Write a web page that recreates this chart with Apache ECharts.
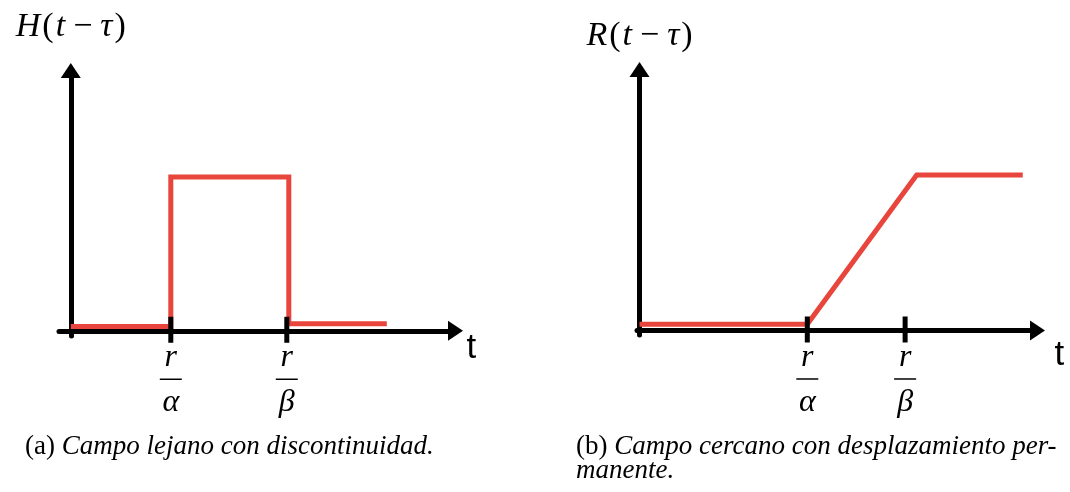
<!DOCTYPE html>
<html>
<head>
<meta charset="utf-8">
<script src="https://cdn.jsdelivr.net/npm/echarts@6/dist/echarts.min.js"></script>
<style>
html,body{margin:0;padding:0;background:#fff;}
#chart{width:1070px;height:492px;}
</style>
</head>
<body>
<div id="chart"></div>
<script>
// ---- data ----
const leftTickValues = [1.0, 2.16];
const leftTickNum = ['r', 'r'];
const leftTickDen = ['α', 'β'];
const leftRedT = [0, 1.0, 1.0, 2.18, 2.18, 3.16];
const leftRedV = [0.027, 0.027, 1.0, 1.0, 0.045, 0.045];
const leftXRange = [-0.118, 3.847];
const leftYRange = [-0.034, 1.692];

const rightTickValues = [1.0, 1.583];
const rightTickNum = ['r', 'r'];
const rightTickDen = ['α', 'β'];
const rightRedT = [0, 1.0, 1.652, 2.284];
const rightRedV = [0.04, 0.04, 1.0, 1.0];
const rightXRange = [-0.015, 2.372];
const rightYRange = [-0.029, 1.678];

const axisNameX = 't';
const leftTitleParts = ['H', '(', 't', '−', 'τ', ')'];
const rightTitleParts = ['R', '(', 't', '−', 'τ', ')'];
const captionA = ['(a) ', 'Campo lejano con discontinuidad.'];
const captionB = ['(b) ', 'Campo cercano con desplazamiento per-', 'manente.'];

// ---- helpers ----
const RED = '#e8453c';
const serif = 'Liberation Serif';
function pairs(t, v) { return t.map((x, i) => [x, v[i]]); }
function mathName(parts) {
  const kinds = ['i', 'p', 'i', 'm', 'i', 'p'];
  return parts.map((p, i) => '{' + kinds[i] + '|' + p + '}').join('');
}
const mathRich = {
  i: {fontFamily: serif, fontStyle: 'italic', fontSize: 34, color: '#000', padding: [0, 1]},
  p: {fontFamily: serif, fontStyle: 'normal', fontSize: 34, color: '#000', padding: [0, 1]},
  m: {fontFamily: serif, fontStyle: 'normal', fontSize: 34, color: '#000', padding: [0, 7]}
};
const fracRich = {
  num: {fontFamily: serif, fontStyle: 'italic', fontSize: 32, lineHeight: 22, color: '#000'},
  bar: {width: 22, height: 1.5, lineHeight: 21, backgroundColor: '#000', fontSize: 2},
  den: {fontFamily: serif, fontStyle: 'italic', fontSize: 32, lineHeight: 26, color: '#000'}
};
function xAxisDef(gridIndex, range, shift, nameGap) {
  return {
    type: 'value', gridIndex: gridIndex, min: range[0], max: range[1],
    name: '{sp| }\n{t|' + axisNameX + '}', nameLocation: 'end', nameGap: nameGap,
    nameTextStyle: {rich: {
      sp: {fontSize: 2, lineHeight: shift * 2},
      t: {fontFamily: 'Liberation Sans', fontSize: 35, lineHeight: 36, color: '#000'}
    }},
    axisLine: {onZero: true, symbol: ['none', 'triangle'], symbolSize: [20, 15], lineStyle: {color: '#000', width: 5}},
    axisTick: {show: false},
    splitLine: {show: false},
    axisLabel: {show: false}
  };
}
function yAxisDef(gridIndex, range, parts, gap) {
  return {
    type: 'value', gridIndex: gridIndex, min: range[0], max: range[1],
    name: mathName(parts), nameLocation: 'end', nameGap: gap,
    nameTextStyle: {rich: mathRich},
    axisLine: {onZero: true, symbol: ['none', 'triangle'], symbolSize: [20, 15], lineStyle: {color: '#000', width: 5}},
    axisTick: {show: false},
    splitLine: {show: false},
    axisLabel: {show: false}
  };
}
function redSeries(idx, t, v) {
  return {
    type: 'line', xAxisIndex: idx, yAxisIndex: idx, data: pairs(t, v),
    symbol: 'none', z: 3, clip: false,
    lineStyle: {color: RED, width: 5, join: 'miter', cap: 'butt'}
  };
}
function tickSeries(idx, ticks, nums, dens) {
  return {
    type: 'scatter', xAxisIndex: idx, yAxisIndex: idx, data: ticks.map(t => [t, 0]),
    symbol: 'rect', symbolSize: [5, 26], symbolOffset: [0, -1], z: 5, clip: false,
    itemStyle: {color: '#000', opacity: 1}, silent: true,
    label: {
      show: true, position: 'bottom', distance: 4,
      formatter: p => '{num|' + nums[p.dataIndex] + '}\n{bar| }\n{den|' + dens[p.dataIndex] + '}',
      rich: fracRich
    }
  };
}
const capRich = {
  u: {fontFamily: serif, fontStyle: 'normal', fontWeight: 'normal', fontSize: 27, lineHeight: 24, color: '#000'},
  i: {fontFamily: serif, fontStyle: 'italic', fontWeight: 'normal', fontSize: 27, lineHeight: 24, color: '#000'}
};

const chart = echarts.init(document.getElementById('chart'), null, {renderer: 'canvas'});
chart.setOption({
  animation: false,
  backgroundColor: '#fff',
  title: [
    {text: '{u|' + captionA[0] + '}{i|' + captionA[1] + '}', left: 25, top: 435, padding: 0,
     textStyle: {fontWeight: 'normal', rich: capRich}},
    {text: '{u|' + captionB[0] + '}{i|' + captionB[1] + '}\n{i|' + captionB[2] + '}', left: 576, top: 435, padding: 0,
     textStyle: {fontWeight: 'normal', rich: capRich}}
  ],
  grid: [
    {left: 59, top: 70.5, width: 396.5, height: 265.5},
    {left: 637, top: 69.5, width: 400.5, height: 265.5}
  ],
  xAxis: [
    xAxisDef(0, leftXRange, 18, 11),
    xAxisDef(1, rightXRange, 25, 17)
  ],
  yAxis: [
    yAxisDef(0, leftYRange, leftTitleParts, 26),
    yAxisDef(1, rightYRange, rightTitleParts, 16)
  ],
  series: [
    redSeries(0, leftRedT, leftRedV),
    tickSeries(0, leftTickValues, leftTickNum, leftTickDen),
    redSeries(1, rightRedT, rightRedV),
    tickSeries(1, rightTickValues, rightTickNum, rightTickDen)
  ]
});
</script>
</body>
</html>
